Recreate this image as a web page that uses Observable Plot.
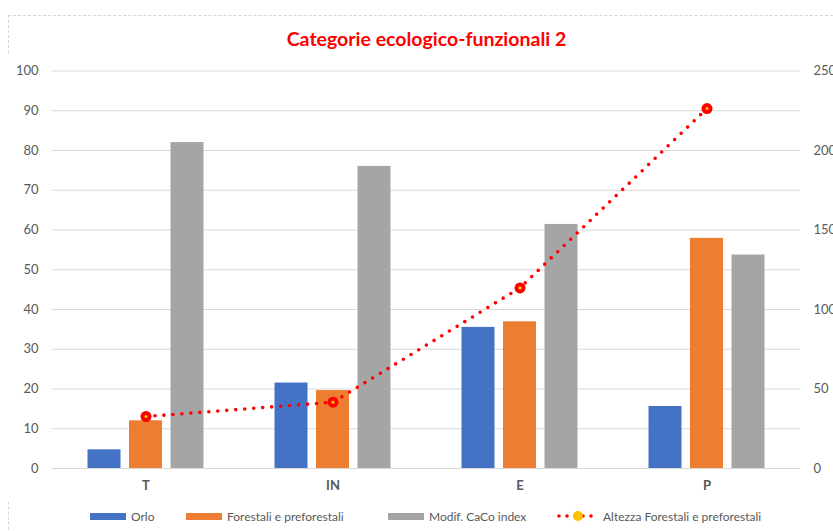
<!DOCTYPE html>
<html>
<head>
<meta charset="utf-8">
<script src="https://cdn.jsdelivr.net/npm/d3@7"></script>
<script src="https://cdn.jsdelivr.net/npm/@observablehq/plot@0.6"></script>
<style>
  html, body { margin: 0; padding: 0; background: #fff; }
  body { width: 833px; height: 531px; overflow: hidden; position: relative; font-family: Lato, "Open Sans", sans-serif; }
  #frame { position: absolute; left: 8px; top: 15px; width: 900px; height: 600px; border: 1px dashed #d6d6d6; box-sizing: border-box; }
  #title { position: absolute; left: 0; top: 28px; width: 853px; text-align: center; color: #ff0000; font-weight: bold; font-size: 19.5px; line-height: 22px; }
  #chart { position: absolute; left: 0; top: 55px; }
  #legend { position: absolute; left: 0; top: 508px; width: 833px; height: 16px; font-size: 12px; color: #595959; }
  .item { position: absolute; top: 0; display: flex; align-items: center; height: 16px; white-space: nowrap; }
  .swatch { width: 36px; height: 7px; margin-right: 5px; }
</style>
</head>
<body>
<div id="frame"></div>
<div id="title">Categorie ecologico-funzionali 2</div>
<div id="chart"></div>
<div id="legend"></div>
<script>
// Categories along the x axis
const categories = ["T", "IN", "E", "P"];

// Bar series (left axis, 0–100)
const orlo = [4.7, 21.5, 35.5, 15.6];
const forestali = [12.0, 19.6, 36.9, 57.9];
const caco = [82.0, 76.0, 61.4, 53.7];

// Line series (right axis, 0–250)
const altezza = [32.7, 41.7, 113.6, 226.4];

// Axis ticks
const leftTicks = [0, 10, 20, 30, 40, 50, 60, 70, 80, 90, 100];
const rightTicks = [0, 50, 100, 150, 200, 250];

// Series names and colours
const seriesNames = ["Orlo", "Forestali e preforestali", "Modif. CaCo index"];
const lineName = "Altezza Forestali e preforestali";
const colors = ["#4472C4", "#ED7D31", "#A5A5A5"];
const lineColor = "#FF0000";
const markerCenter = "#FFC000";

// Secondary axis maps 0–250 onto the primary 0–100 range
const ratio = 250 / 100;

const barSeries = [orlo, forestali, caco].map((values, k) =>
  categories.map((c, i) => ({category: c, series: seriesNames[k], value: values[i]}))
);
const lineRows = categories.map((c, i) => ({category: c, value: altezza[i]}));

// Each category band holds three bars side by side
const W = 833, mL = 52, mR = 33;
const band = (W - mL - mR) / categories.length;
const barW = 33, slot = 41.5;
const barMarks = barSeries.map((rows, k) => {
  const centerOffset = (k - 1) * slot;
  const left = (band - barW) / 2 + centerOffset;
  const right = (band - barW) / 2 - centerOffset;
  return Plot.barY(rows, {x: "category", y: "value", fill: colors[k], insetLeft: left, insetRight: right});
});

const axisStyle = {tickSize: 0, fill: "#595959", fontSize: 13, label: null};

const chart = Plot.plot({
  width: W,
  height: 445,
  marginLeft: mL,
  marginRight: mR,
  marginTop: 15.5,
  marginBottom: 32,
  style: {fontFamily: "Lato, 'Open Sans', sans-serif", fontSize: "13px", color: "#595959", background: "white"},
  x: {type: "band", domain: categories, padding: 0, axis: null},
  y: {domain: [0, 100], axis: null},
  marks: [
    Plot.ruleY(leftTicks, {stroke: "#d9d9d9", strokeWidth: 1}),
    ...barMarks,
    Plot.line(lineRows, {x: "category", y: d => d.value / ratio, stroke: lineColor, strokeWidth: 3.6, strokeDasharray: "0 9", strokeLinecap: "round"}),
    Plot.dot(lineRows, {x: "category", y: d => d.value / ratio, r: 5.5, fill: lineColor}),
    Plot.dot(lineRows, {x: "category", y: d => d.value / ratio, r: 1.6, fill: markerCenter}),
    Plot.axisY(leftTicks, {anchor: "left", tickPadding: 14, ...axisStyle}),
    Plot.axisY(rightTicks.map(v => v / ratio), {anchor: "right", tickPadding: 13, tickFormat: v => Math.round(v * ratio), ...axisStyle}),
    Plot.axisX({tickPadding: 12, fontWeight: "bold", ...axisStyle})
  ]
});
document.getElementById("chart").appendChild(chart);

// Legend row below the chart
const legend = document.getElementById("legend");
const legendX = [90, 186, 388, 557];
seriesNames.forEach((name, k) => {
  const item = document.createElement("div");
  item.className = "item";
  item.style.left = legendX[k] + "px";
  item.innerHTML = `<div class="swatch" style="background:${colors[k]}"></div><span>${name}</span>`;
  legend.appendChild(item);
});
const lineItem = document.createElement("div");
lineItem.className = "item";
lineItem.style.left = legendX[3] + "px";
lineItem.innerHTML = `<svg width="44" height="16" style="margin-right:2px">
  <line x1="2" x2="40" y1="8" y2="8" stroke="${lineColor}" stroke-width="3.6" stroke-dasharray="0 8" stroke-linecap="round"></line>
  <circle cx="21" cy="8" r="5" fill="${markerCenter}"></circle>
</svg><span>${lineName}</span>`;
legend.appendChild(lineItem);
</script>
</body>
</html>
